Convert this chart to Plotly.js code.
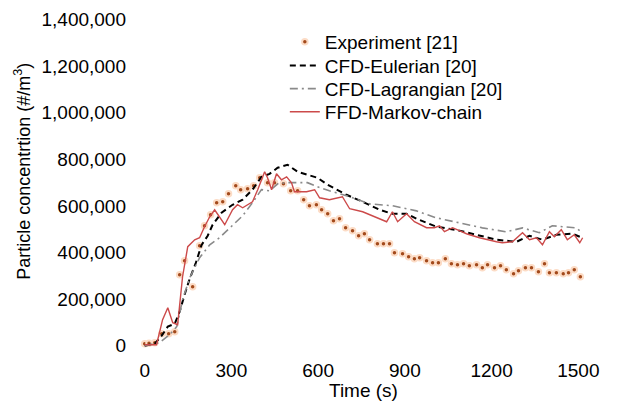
<!DOCTYPE html>
<html><head><meta charset="utf-8">
<script src="https://cdn.plot.ly/plotly-3.0.1.min.js"></script>
<style>html,body{margin:0;padding:0;background:#fff}#chart{width:618px;height:403px}</style>
</head><body><div id="chart"></div>
<script>
// Experiment [21]
const expT = [0,15,35,59,83,104,121,138,166,190,207,228,249,270,290,315,332,356,377,398,425,449,480,505,529,550,570,594,612,633,653,674,695,719,740,760,778,805,826,847,864,892,913,933,951,975,996,1016,1040,1061,1082,1103,1123,1148,1168,1186,1210,1231,1251,1276,1293,1317,1338,1362,1383,1400,1424,1448,1466,1486,1507];
const expV = [8000,10000,12900,51500,51500,60000,305000,365000,253000,429000,515000,562000,614000,618000,652000,687000,670000,674000,687000,721000,700000,700000,695000,665000,665000,627000,601000,605000,584000,567000,537000,545000,506000,494000,472000,481000,455000,438000,438000,438000,399000,395000,382000,373000,378000,365000,356000,356000,373000,352000,348000,352000,343000,348000,335000,348000,335000,343000,326000,309000,322000,335000,335000,318000,352000,313000,313000,309000,313000,326000,296000];
// CFD-Eulerian [20]
const eulT = [0,35,59,80,104,121,138,156,176,197,218,235,266,304,339,373,404,432,460,494,529,563,598,633,698,754,812,854,906,940,1009,1089,1168,1217,1286,1331,1376,1424,1479,1505];
const eulV = [0,8600,43000,82000,94000,146000,219000,288000,352000,433000,472000,519000,571000,605000,627000,670000,725000,738000,764000,777000,747000,734000,721000,691000,648000,618000,584000,567000,567000,545000,511000,494000,468000,455000,446000,472000,455000,476000,481000,468000];
// CFD-Lagrangian [20]
const lagT = [0,52,86,111,131,156,190,225,259,304,339,373,404,432,460,491,536,563,598,639,709,778,857,940,1009,1089,1168,1251,1307,1365,1410,1445,1493,1505];
const lagV = [0,13000,47000,82000,197000,292000,378000,433000,464000,519000,558000,614000,670000,665000,695000,700000,700000,700000,682000,665000,640000,609000,601000,579000,549000,528000,506000,489000,506000,485000,515000,511000,506000,494000];
// FFD-Markov-chain
const ffdT = [0,41,62,80,97,114,131,149,173,190,207,225,242,259,277,304,321,339,373,391,415,425,439,456,473,491,508,518,560,588,605,639,684,709,754,837,857,875,906,933,975,1002,1020,1037,1065,1113,1158,1217,1237,1272,1307,1331,1355,1376,1400,1417,1441,1462,1486,1505,1515];
const ffdV = [4300,4300,111600,163100,98700,90100,296000,425000,455000,463500,510700,553700,583700,553700,519300,583700,605200,592300,618000,669600,746800,721000,669600,738200,712500,725300,699600,661000,661000,669600,635200,626600,639500,588000,575100,532200,575100,532200,566500,532200,506500,506500,515000,489300,506500,480700,463500,446400,442100,446400,485000,455000,463500,433500,489300,467800,497900,455000,476400,442100,463500];

const xTicks = [0,300,600,900,1200,1500];
const yTicks = [0,200000,400000,600000,800000,1000000,1200000,1400000];
const yTickText = yTicks.map(v => v.toLocaleString('en-US'));

const FONT = 'Liberation Sans, Arial, sans-serif';

const traces = [
  {x: expT, y: expV, mode: 'markers', name: 'Experiment [21]', cliponaxis: false, legend: 'legend',
   marker: {color: '#a34a1c', size: 5.5, line: {color: '#fcdcc6', width: 2}}},
  {x: eulT, y: eulV, mode: 'lines', name: 'CFD-Eulerian [20]', legend: 'legend2',
   line: {color: '#000000', width: 2, dash: '6px,4px'}},
  {x: lagT, y: lagV, mode: 'lines', name: 'CFD-Lagrangian [20]', legend: 'legend3',
   line: {color: '#8a8a8a', width: 1.6, dash: '8px,4px,2px,4px'}},
  {x: ffdT, y: ffdV, mode: 'lines', name: 'FFD-Markov-chain', legend: 'legend4',
   line: {color: '#cc4a4a', width: 1.4}}
];

const legBase = {x: 0.33, xanchor: 'left', yanchor: 'top', bgcolor: 'rgba(0,0,0,0)',
                 font: {family: FONT, size: 19, color: '#000'}};

const layout = {
  width: 618, height: 403,
  margin: {l: 136, r: 31, t: 15, b: 48},
  paper_bgcolor: '#fff', plot_bgcolor: '#fff',
  font: {family: FONT, size: 19, color: '#000'},
  showlegend: true,
  legend: Object.assign({}, legBase, {y: 0.977}),
  legend2: Object.assign({}, legBase, {y: 0.907}),
  legend3: Object.assign({}, legBase, {y: 0.839}),
  legend4: Object.assign({}, legBase, {y: 0.771}),
  xaxis: {range: [-30, 1530], tickvals: xTicks, ticktext: xTicks.map(String),
          showgrid: false, zeroline: false, showline: false, ticks: '',
          ticklabelstandoff: 2},
  yaxis: {range: [-40000, 1420000], tickvals: yTicks, ticktext: yTickText,
          showgrid: false, zeroline: false, showline: false, ticks: '',
          ticklabelstandoff: 9},
  annotations: [
    {text: '(a)', xref: 'paper', yref: 'paper', x: 0.28, y: 1.04,
     xanchor: 'center', yanchor: 'bottom', showarrow: false,
     font: {family: FONT, size: 19, color: '#000'}},
    {text: 'Time (s)', xref: 'paper', yref: 'paper', x: 0.504, y: 0, yshift: -35,
     xanchor: 'center', yanchor: 'middle', showarrow: false,
     font: {family: FONT, size: 19, color: '#000'}},
    {text: 'Particle concentrtion (#/m<sup>3</sup>)', xref: 'paper', yref: 'paper',
     x: 0, xshift: -113, y: 0.539, xanchor: 'center', yanchor: 'middle', textangle: -90,
     showarrow: false, font: {family: FONT, size: 18, color: '#000'}}
  ]
};

Plotly.newPlot('chart', traces, layout, {displayModeBar: false, staticPlot: true});
</script></body></html>
